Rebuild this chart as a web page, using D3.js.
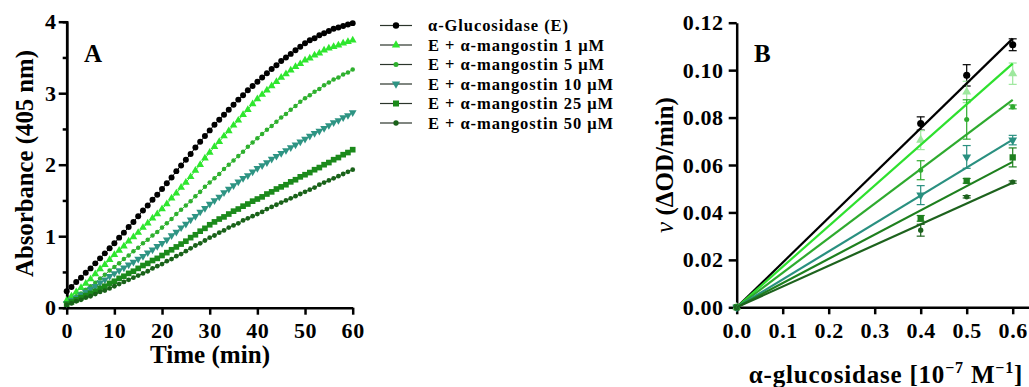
<!DOCTYPE html>
<html>
<head>
<meta charset="utf-8">
<script src="https://cdn.jsdelivr.net/npm/d3@7"></script>
<style>
  body { margin: 0; background: #fff; }
  svg text { font-family: "Liberation Serif", "Times New Roman", serif; font-weight: bold; fill: #000; }
</style>
</head>
<body>
<svg id="chart" width="1029" height="387"></svg>
<script>
// ---- panel A : absorbance vs time ----
const minutes = d3.range(0, 61);
const absE = [0.23,0.29,0.36,0.42,0.49,0.55,0.62,0.69,0.76,0.83,0.90,0.98,1.05,1.13,1.20,1.28,1.36,1.43,1.51,1.58,1.66,
  1.74,1.82,1.91,1.99,2.07,2.15,2.24,2.32,2.40,2.48,2.56,2.63,2.70,2.77,2.84,2.91,2.97,3.04,3.10,3.16,
  3.22,3.28,3.34,3.39,3.45,3.50,3.55,3.60,3.65,3.70,3.74,3.77,3.81,3.84,3.87,3.90,3.92,3.94,3.96,3.98];
const abs1 = [0.10,0.16,0.22,0.28,0.34,0.40,0.47,0.54,0.60,0.67,0.74,0.80,0.86,0.93,0.99,1.05,1.12,1.18,1.25,1.31,1.38,
  1.45,1.53,1.60,1.68,1.75,1.83,1.92,2.00,2.09,2.17,2.25,2.32,2.40,2.47,2.55,2.62,2.70,2.77,2.85,2.92,
  2.98,3.04,3.10,3.16,3.22,3.27,3.32,3.37,3.41,3.46,3.49,3.53,3.56,3.60,3.63,3.65,3.67,3.70,3.72,3.74];
const abs5 = [0.06,0.11,0.16,0.20,0.25,0.30,0.35,0.41,0.46,0.52,0.57,0.62,0.68,0.73,0.79,0.84,0.90,0.95,1.01,1.06,1.12,
  1.18,1.24,1.31,1.37,1.43,1.49,1.56,1.62,1.69,1.75,1.81,1.87,1.94,2.00,2.06,2.12,2.18,2.25,2.31,2.37,
  2.43,2.49,2.54,2.60,2.66,2.71,2.77,2.82,2.88,2.93,2.97,3.02,3.06,3.11,3.15,3.19,3.22,3.26,3.29,3.33];
const abs10 = [0.06,0.10,0.14,0.18,0.22,0.26,0.30,0.35,0.39,0.44,0.48,0.52,0.56,0.60,0.64,0.68,0.72,0.77,0.81,0.86,0.90,
  0.95,1.01,1.06,1.12,1.17,1.23,1.28,1.34,1.39,1.45,1.50,1.55,1.61,1.66,1.71,1.76,1.81,1.85,1.90,1.95,
  1.99,2.03,2.08,2.12,2.16,2.20,2.24,2.28,2.32,2.36,2.40,2.44,2.47,2.51,2.55,2.59,2.62,2.66,2.69,2.73];
const abs25 = [0.05,0.08,0.11,0.14,0.17,0.20,0.23,0.27,0.30,0.34,0.37,0.41,0.44,0.48,0.51,0.55,0.59,0.62,0.66,0.69,0.73,
  0.77,0.81,0.85,0.89,0.93,0.98,1.02,1.07,1.11,1.16,1.20,1.24,1.27,1.31,1.35,1.38,1.42,1.45,1.49,1.52,
  1.55,1.59,1.62,1.66,1.69,1.72,1.76,1.79,1.83,1.86,1.89,1.93,1.96,2.00,2.03,2.07,2.10,2.14,2.17,2.21];
const abs50 = [0.04,0.06,0.09,0.11,0.14,0.16,0.19,0.22,0.24,0.27,0.30,0.33,0.36,0.39,0.42,0.45,0.48,0.51,0.55,0.58,0.61,
  0.65,0.68,0.72,0.75,0.79,0.83,0.87,0.90,0.94,0.98,1.01,1.05,1.08,1.12,1.15,1.18,1.22,1.25,1.28,1.31,
  1.34,1.38,1.41,1.44,1.47,1.50,1.53,1.56,1.59,1.62,1.65,1.68,1.72,1.75,1.78,1.81,1.84,1.87,1.90,1.93];

// ---- panel B : rate vs enzyme concentration ----
const enzymeConc = [0, 0.4, 0.5, 0.6];
const rateE  = [0, 0.0775, 0.0978, 0.1107];
const rate1  = [0, 0.0705, 0.0908, 0.0985];
const rate5  = [0, 0.0578, 0.0792, 0.0845];
const rate10 = [0, 0.0473, 0.0634, 0.0705];
const rate25 = [0, 0.0375, 0.0533, 0.0632];
const rate50 = [0, 0.0325, 0.0466, 0.0528];
const errE  = [0, 0.0028, 0.0045, 0.0025];
const err1  = [0, 0.0040, 0.0045, 0.0045];
const err5  = [0, 0.0040, 0.0083, 0.0008];
const err10 = [0, 0.0040, 0.0048, 0.0020];
const err25 = [0, 0.0012, 0.0010, 0.0040];
const err50 = [0, 0.0025, 0.0005, 0.0005];
const fitSlope = [0.1888, 0.1712, 0.1457, 0.1178, 0.1022, 0.0875];

const labels = ['\u03b1-Glucosidase (E)', 'E + \u03b1-mangostin 1 \u03bcM', 'E + \u03b1-mangostin 5 \u03bcM',
  'E + \u03b1-mangostin 10 \u03bcM', 'E + \u03b1-mangostin 25 \u03bcM', 'E + \u03b1-mangostin 50 \u03bcM'];
const labelWidths = [140, 176, 176, 185, 185, 185];
const yTicksA = [0, 1, 2, 3, 4];
const xTicksA = [0, 10, 20, 30, 40, 50, 60];
const yTicksB = [0, 0.02, 0.04, 0.06, 0.08, 0.10, 0.12];
const xTicksB = [0, 0.1, 0.2, 0.3, 0.4, 0.5, 0.6];

const series = [
  { abs: absE,  rate: rateE,  err: errE,  color: '#000000', line: '#000000', mark: '#000000', sym: d3.symbolCircle,   sizeA: 28, sizeB: 40 },
  { abs: abs1,  rate: rate1,  err: err1,  color: '#2ee62e', line: '#2ee02e', mark: '#9ee89e', sym: d3.symbolTriangle, sizeA: 26, sizeB: 36 },
  { abs: abs5,  rate: rate5,  err: err5,  color: '#2eb02e', line: '#2eaa2e', mark: '#2eaa2e', sym: d3.symbolCircle,   sizeA: 16, sizeB: 20 },
  { abs: abs10, rate: rate10, err: err10, color: '#2e9483', line: '#2a9080', mark: '#2a9080', sym: d3.symbolTriangle, sizeA: 26, sizeB: 34, flip: true },
  { abs: abs25, rate: rate25, err: err25, color: '#1b8a1b', line: '#1e801e', mark: '#1e801e', sym: d3.symbolSquare,   sizeA: 32, sizeB: 40 },
  { abs: abs50, rate: rate50, err: err50, color: '#196219', line: '#1d621d', mark: '#1d621d', sym: d3.symbolCircle,   sizeA: 18, sizeB: 22 }
];

const svg = d3.select('#chart');

function styleAxis(g, fs) {
  g.select('.domain').attr('stroke', '#000').attr('stroke-width', 2.5);
  g.selectAll('.tick line').attr('stroke', '#000').attr('stroke-width', 2.5);
  g.selectAll('.tick text').attr('font-size', fs).attr('font-family', null).attr('fill', '#000')
    .attr('letter-spacing', 0.6);
}

// ===== Panel A =====
const xA = d3.scaleLinear().domain([0, 60]).range([66.7, 352.7]);
const yA = d3.scaleLinear().domain([0, 4]).range([307.7, 21.7]);

// minor ticks
svg.append('g').attr('transform', 'translate(66.7,0)')
  .call(d3.axisLeft(yA).tickValues([0.5, 1.5, 2.5, 3.5]).tickSize(4).tickFormat(''))
  .call(g => { styleAxis(g, 22); });
svg.append('g').attr('transform', 'translate(66.7,0)')
  .call(d3.axisLeft(yA).tickValues(yTicksA).tickSize(8).tickSizeOuter(0).tickPadding(2).tickFormat(d3.format('d')))
  .call(g => styleAxis(g, 22));
svg.append('g').attr('transform', 'translate(0,307.7)')
  .call(d3.axisBottom(xA).tickValues(xTicksA).tickSize(7).tickSizeOuter(0).tickPadding(8).tickFormat(d3.format('d')))
  .call(g => styleAxis(g, 22));

const lineA = d3.line().x((d, i) => xA(minutes[i])).y(d => yA(d));
series.forEach(s => {
  const g = svg.append('g');
  g.append('path').datum(s.abs).attr('d', lineA).attr('fill', 'none')
    .attr('stroke', s.color).attr('stroke-width', 1);
  g.selectAll('path.m').data(s.abs).join('path').attr('class', 'm')
    .attr('d', d3.symbol().type(s.sym).size(s.sizeA))
    .attr('transform', (d, i) => `translate(${xA(minutes[i])},${yA(d)})${s.flip ? ' rotate(180)' : ''}`)
    .attr('fill', s.color);
});

svg.append('text').text('A').attr('x', 84).attr('y', 62).attr('font-size', 25);
svg.append('text').text('Time (min)').attr('x', 210).attr('y', 363)
  .attr('text-anchor', 'middle').attr('font-size', 25)
  .attr('textLength', 120).attr('lengthAdjust', 'spacingAndGlyphs');
svg.append('text').text('Absorbance (405 nm)')
  .attr('transform', 'translate(33,163.5) rotate(-90)')
  .attr('text-anchor', 'middle').attr('font-size', 25)
  .attr('textLength', 227).attr('lengthAdjust', 'spacingAndGlyphs');

// legend
const legend = svg.append('g');
series.forEach((s, i) => {
  const y = 25.5 + i * 19.5;
  legend.append('line').attr('x1', 380).attr('x2', 412).attr('y1', y).attr('y2', y)
    .attr('stroke', '#2b352b').attr('stroke-width', 1.2);
  legend.append('path').attr('d', d3.symbol().type(s.sym).size(s.sizeA + 4))
    .attr('transform', `translate(396,${y})${s.flip ? ' rotate(180)' : ''}`).attr('fill', s.color);
  legend.append('text').text(labels[i]).attr('x', 428).attr('y', y + 5.5)
    .attr('font-size', 16.5).attr('textLength', labelWidths[i]).attr('lengthAdjust', 'spacing');
});

// ===== Panel B =====
const xB = d3.scaleLinear().domain([0, 0.6]).range([736.7, 1012.7]);
const yB = d3.scaleLinear().domain([0, 0.12]).range([307.3, 22.7]);
const xBaxis = xB.copy().domain([0, xB.invert(1029)]).range([736.7, 1029]);

svg.append('g').attr('transform', 'translate(736.7,0)')
  .call(d3.axisLeft(yB).tickValues(yTicksB).tickSize(8).tickSizeOuter(0).tickPadding(5).tickFormat(d3.format('.2f')))
  .call(g => styleAxis(g, 22));
svg.append('g').attr('transform', 'translate(0,307.3)')
  .call(d3.axisBottom(xBaxis).tickValues(xTicksB).tickSize(7).tickSizeOuter(0).tickPadding(8).tickFormat(d3.format('.1f')))
  .call(g => styleAxis(g, 22));

series.forEach(s => {
  const g = svg.append('g');
  // error bars
  enzymeConc.forEach((x, i) => {
    if (!s.err[i]) return;
    const cx = xB(x), y1 = yB(s.rate[i] + s.err[i]), y2 = yB(s.rate[i] - s.err[i]);
    g.append('line').attr('x1', cx).attr('x2', cx).attr('y1', y1).attr('y2', y2)
      .attr('stroke', s.mark).attr('stroke-width', 1.2);
    [y1, y2].forEach(yy => g.append('line').attr('x1', cx - 4).attr('x2', cx + 4).attr('y1', yy).attr('y2', yy)
      .attr('stroke', s.mark).attr('stroke-width', 1.2));
  });
  g.selectAll('path.m').data(s.rate).join('path').attr('class', 'm')
    .attr('d', d3.symbol().type(s.sym).size(s.sizeB))
    .attr('transform', (d, i) => `translate(${xB(enzymeConc[i])},${yB(d)})${s.flip ? ' rotate(180)' : ''}`)
    .attr('fill', s.mark);
});
series.forEach((s, k) => {
  svg.append('line').attr('x1', xB(0)).attr('y1', yB(0))
    .attr('x2', xB(0.6)).attr('y2', yB(0.6 * fitSlope[k]))
    .attr('stroke', s.line).attr('stroke-width', 2.2);
});

svg.append('text').text('B').attr('x', 754).attr('y', 62).attr('font-size', 25);
const yt = svg.append('text').attr('transform', 'translate(673,165) rotate(-90)')
  .attr('text-anchor', 'middle').attr('font-size', 25);
yt.append('tspan').text('v').attr('font-style', 'italic').attr('font-weight', 'normal');
yt.append('tspan').text(' (\u0394OD/min)');
const xt = svg.append('text').attr('x', 886).attr('y', 383).attr('text-anchor', 'middle')
  .attr('font-size', 25).attr('letter-spacing', 0.8);
xt.append('tspan').text('\u03b1-glucosidase [10');
xt.append('tspan').text('\u22127').attr('font-size', 16).attr('dy', -10);
xt.append('tspan').text(' M').attr('dy', 10);
xt.append('tspan').text('\u22121').attr('font-size', 16).attr('dy', -10);
xt.append('tspan').text(']').attr('dy', 10);
</script>
</body>
</html>
